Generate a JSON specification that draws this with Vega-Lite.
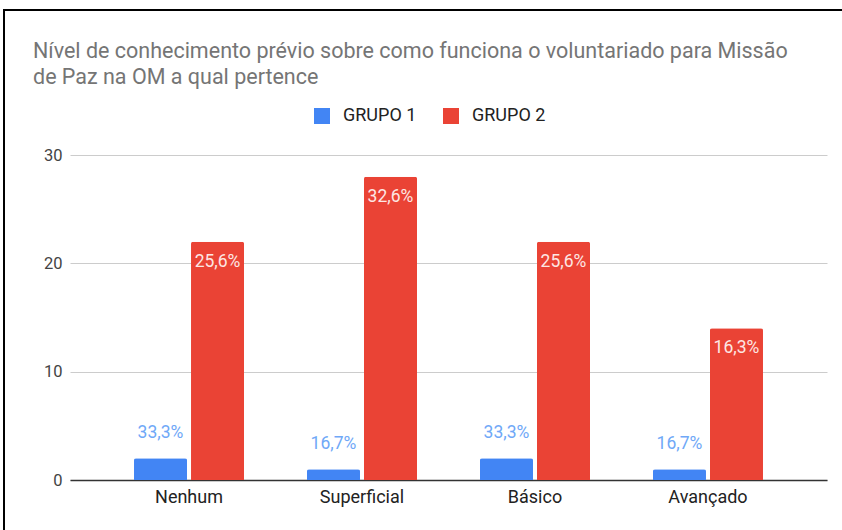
{
  "$schema": "https://vega.github.io/schema/vega-lite/v6.json",
  "width": 840,
  "height": 522,
  "autosize": {"type": "none"},
  "padding": {"left": 4, "top": 10, "right": 0, "bottom": 0},
  "background": "#ffffff",
  "config": {
    "font": "Roboto",
    "view": {"stroke": "#000000", "strokeWidth": 2}
  },
  "title": {
    "text": ["Nível de conhecimento prévio sobre como funciona o voluntariado para Missão", "de Paz na OM a qual pertence"],
    "anchor": "start",
    "frame": "group",
    "fontSize": 21.5,
    "fontWeight": "normal",
    "color": "#757575",
    "lineHeight": 26,
    "dx": 29,
    "dy": 82
  },
  "data": {
    "values": [
      {"nivel": "Nenhum", "grupo": "GRUPO 1", "valor": 2, "rotulo": "33,3%"},
      {"nivel": "Nenhum", "grupo": "GRUPO 2", "valor": 22, "rotulo": "25,6%"},
      {"nivel": "Superficial", "grupo": "GRUPO 1", "valor": 1, "rotulo": "16,7%"},
      {"nivel": "Superficial", "grupo": "GRUPO 2", "valor": 28, "rotulo": "32,6%"},
      {"nivel": "Básico", "grupo": "GRUPO 1", "valor": 2, "rotulo": "33,3%"},
      {"nivel": "Básico", "grupo": "GRUPO 2", "valor": 22, "rotulo": "25,6%"},
      {"nivel": "Avançado", "grupo": "GRUPO 1", "valor": 1, "rotulo": "16,7%"},
      {"nivel": "Avançado", "grupo": "GRUPO 2", "valor": 14, "rotulo": "16,3%"}
    ]
  },
  "encoding": {
    "x": {
      "field": "nivel",
      "type": "nominal",
      "sort": ["Nenhum", "Superficial", "Básico", "Avançado"],
      "scale": {"range": [66, 823], "paddingInner": 0.364, "paddingOuter": 0.37},
      "axis": {
        "title": null,
        "orient": "bottom",
        "offset": -52,
        "labelAngle": 0,
        "labelFontSize": 18,
        "labelColor": "#222222",
        "labelPadding": 8,
        "ticks": false,
        "domainColor": "#333333",
        "domainWidth": 1.5,
        "grid": false
      }
    },
    "xOffset": {
      "field": "grupo",
      "type": "nominal",
      "scale": {"paddingInner": 0.07}
    },
    "y": {
      "field": "valor",
      "type": "quantitative",
      "scale": {"domain": [0, 30], "range": [470, 145], "nice": false},
      "axis": {
        "title": null,
        "orient": "left",
        "offset": -66,
        "values": [0, 10, 20, 30],
        "labelFontSize": 16.5,
        "labelColor": "#444444",
        "labelPadding": 8,
        "ticks": false,
        "domain": false,
        "grid": true,
        "gridColor": "#cccccc",
        "gridWidth": 1
      }
    }
  },
  "layer": [
    {
      "mark": {"type": "bar", "cornerRadiusTopLeft": 2, "cornerRadiusTopRight": 2},
      "encoding": {
        "color": {
          "field": "grupo",
          "type": "nominal",
          "scale": {"domain": ["GRUPO 1", "GRUPO 2"], "range": ["#4285F4", "#EA4335"]},
          "legend": {
            "orient": "none",
            "legendX": 309,
            "legendY": 97,
            "direction": "horizontal",
            "title": null,
            "symbolType": "square",
            "symbolSize": 256,
            "symbolStrokeWidth": 0,
            "symbolOpacity": 1,
            "labelFontSize": 18,
            "labelColor": "#222222",
            "labelOffset": 12,
            "columnPadding": 25
          }
        }
      }
    },
    {
      "transform": [{"filter": "datum.grupo === 'GRUPO 1'"}],
      "mark": {"type": "text", "dy": -20, "baseline": "alphabetic", "fontSize": 17.5, "color": "#6fa8f7"},
      "encoding": {"text": {"field": "rotulo"}}
    },
    {
      "transform": [{"filter": "datum.grupo === 'GRUPO 2'"}],
      "mark": {"type": "text", "dy": 25, "baseline": "alphabetic", "fontSize": 17.5, "color": "#fde7e4"},
      "encoding": {"text": {"field": "rotulo"}}
    }
  ]
}
